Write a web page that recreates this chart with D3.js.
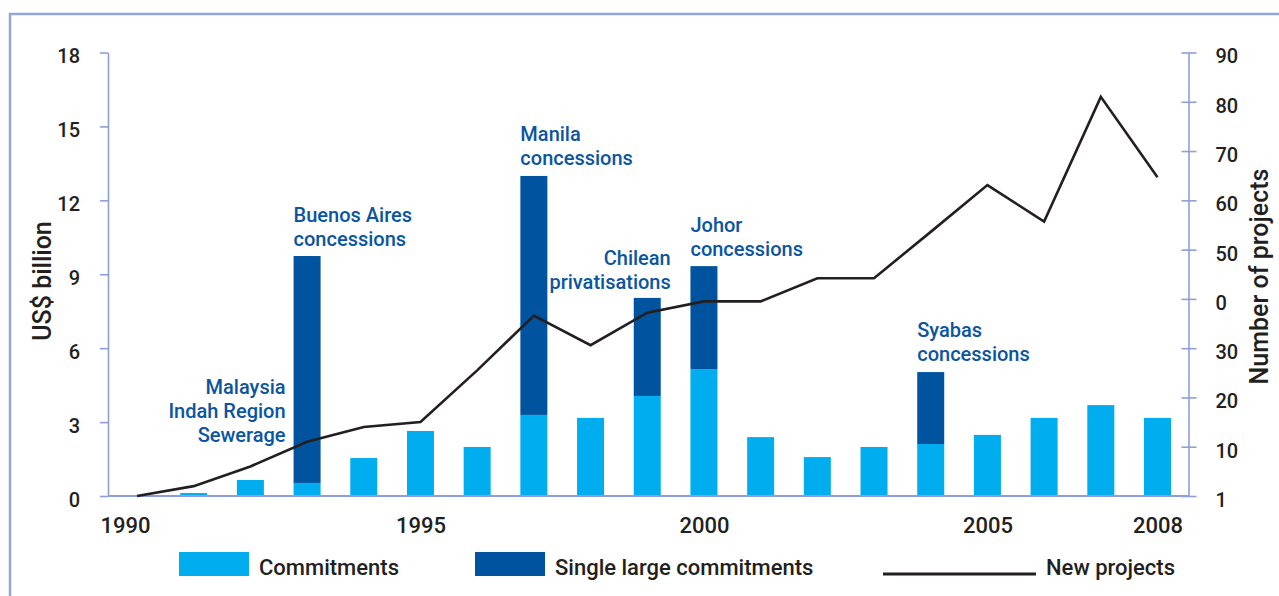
<!DOCTYPE html>
<html lang="en">
<head>
<meta charset="utf-8">
<title>Commitments and new projects, 1990-2008</title>
<script src="https://cdn.jsdelivr.net/npm/d3@7"></script>
<style>
	body { margin: 0; background: #fff; }
	svg { display: block; font-family: Roboto, "Open Sans", sans-serif; font-weight: 500; }
	text { fill: #231f20; }
	.axis path, .axis line { stroke: #8d9fd6; stroke-width: 1.6; }
	.note text { fill: #0b55a0; }
</style>
</head>
<body>
<script>

// values
var years = [1990, 1991, 1992, 1993, 1994, 1995, 1996, 1997, 1998, 1999,
             2000, 2001, 2002, 2003, 2004, 2005, 2006, 2007, 2008];
var commitments = [0, 0.12, 0.65, 0.53, 1.54, 2.64, 1.99, 3.29, 3.17, 4.06,
                   5.15, 2.39, 1.58, 1.99, 2.11, 2.48, 3.17, 3.69, 3.17];
var singleLarge = [0, 0, 0, 9.21, 0, 0, 0, 9.70, 0, 3.98,
                   4.18, 0, 0, 0, 2.92, 0, 0, 0, 0];
var newProjects = [0, 2, 6, 11, 14, 15, 25.5, 36.6, 30.6, 37.2,
                   39.5, 39.5, 44.2, 44.2, 53.6, 63.1, 55.7, 81, 64.7];

var leftTicks = [0, 3, 6, 9, 12, 15, 18];
var rightTicks = [0, 10, 20, 30, 40, 50, 60, 70, 80, 90];
var rightTickLabels = ["1", "10", "20", "30", "0", "50", "60", "70", "80", "90"];
var yearTicks = [1990, 1995, 2000, 2005, 2008];

var noteYears = [1993, 1993, 1997, 1999, 2000, 2004];
var noteLines = [
	["Malaysia", "Indah Region", "Sewerage"],
	["Buenos Aires", "concessions"],
	["Manila", "concessions"],
	["Chilean", "privatisations"],
	["Johor", "concessions"],
	["Syabas", "concessions"]
];

var W = 1279, H = 596;
var plotLeft = 108, plotRight = 1188.5, plotBottom = 496, plotTop = 52.5;
var barW = 27;

var svg = d3.select("body").append("svg")
	.attr("width", W)
	.attr("height", H);

// frame
svg.append("rect")
	.attr("x", 10).attr("y", 14)
	.attr("width", W).attr("height", H)
	.attr("fill", "none")
	.attr("stroke", "#94a6d8")
	.attr("stroke-width", 2.5);

var x = d3.scaleLinear().domain([1990, 2008]).range([137, 1157.5]);
var yL = d3.scaleLinear().domain([0, 18]).range([plotBottom, plotTop]);
var yR = d3.scaleLinear().domain([0, 90]).range([plotBottom, plotTop]);

var data = years.map(function(y, i) {
	return { year: y, c: commitments[i], s: singleLarge[i], p: newProjects[i] };
});

// bars
svg.append("g").selectAll("rect")
	.data(data)
	.enter().append("rect")
	.attr("x", function(d) { return x(d.year) - barW / 2; })
	.attr("y", function(d) { return yL(d.c); })
	.attr("width", barW)
	.attr("height", function(d) { return yL(0) - yL(d.c); })
	.attr("fill", "#00aeef");

svg.append("g").selectAll("rect")
	.data(data.filter(function(d) { return d.s > 0; }))
	.enter().append("rect")
	.attr("x", function(d) { return x(d.year) - barW / 2; })
	.attr("y", function(d) { return yL(d.c + d.s); })
	.attr("width", barW)
	.attr("height", function(d) { return yL(d.c) - yL(d.c + d.s); })
	.attr("fill", "#00549f");

// axes
var left = svg.append("g")
	.attr("class", "axis")
	.attr("transform", "translate(" + plotLeft + ",0)")
	.call(d3.axisLeft(yL).tickValues(leftTicks).tickSize(8).tickSizeOuter(0).tickPadding(20));

var right = svg.append("g")
	.attr("class", "axis")
	.attr("transform", "translate(" + plotRight + ",0)")
	.call(d3.axisRight(yR).tickValues(rightTicks).tickSize(8).tickSizeOuter(0).tickPadding(19)
		.tickFormat(function(d, i) { return rightTickLabels[i]; }));
right.selectAll(".tick line").attr("x1", -7);

var bottom = svg.append("g")
	.attr("class", "axis")
	.attr("transform", "translate(0," + plotBottom + ")")
	.call(d3.axisBottom(x).tickValues(yearTicks).tickSize(0).tickPadding(21).tickFormat(d3.format("d")));
bottom.select(".domain").remove();
bottom.selectAll("text").attr("font-size", 22)
	.filter(function(d) { return d === 1990; }).attr("dx", -12);

svg.append("line")
	.attr("class", "base")
	.attr("x1", plotLeft).attr("x2", plotRight)
	.attr("y1", plotBottom).attr("y2", plotBottom)
	.attr("stroke", "#8d9fd6").attr("stroke-width", 1.8);

[left, right].forEach(function(g) {
	g.selectAll("text").attr("font-size", 20).attr("dy", "0.52em");
});
svg.selectAll(".axis").attr("font-family", null).attr("font-size", null);
svg.selectAll(".axis text").attr("fill", "#231f20");

// new projects line
svg.append("path")
	.datum(data)
	.attr("fill", "none")
	.attr("stroke", "#231f20")
	.attr("stroke-width", 2.6)
	.attr("stroke-linejoin", "miter")
	.attr("d", d3.line()
		.x(function(d) { return x(d.year); })
		.y(function(d) { return yR(d.p); }));

// axis titles
svg.append("text")
	.attr("transform", "translate(51," + 281 + ") rotate(-90)")
	.attr("text-anchor", "middle")
	.attr("font-size", 25)
	.text("US$ billion");

svg.append("text")
	.attr("transform", "translate(1268," + 276.5 + ") rotate(-90)")
	.attr("text-anchor", "middle")
	.attr("font-size", 25)
	.text("Number of projects");

// annotations: anchored to the bars they describe
var noteLayout = [
	{ anchor: "end", dx: -barW / 2 - 8, base: 394 },
	{ anchor: "start", dx: -barW / 2, above: 10 },
	{ anchor: "start", dx: -barW / 2, above: 11 },
	{ anchor: "end", dx: barW / 2 + 10, above: 9 },
	{ anchor: "start", dx: -barW / 2, above: 10 },
	{ anchor: "start", dx: -barW / 2, above: 11 }
];
var lineH = 24;

noteLines.forEach(function(lines, i) {
	var L = noteLayout[i];
	var yr = noteYears[i];
	var k = years.indexOf(yr);
	var top = yL(commitments[k] + singleLarge[k]);
	var last = L.base !== undefined ? L.base + (lines.length - 1) * lineH : top - L.above;
	var g = svg.append("g").attr("class", "note");
	g.selectAll("text")
		.data(lines)
		.enter().append("text")
		.attr("x", x(yr) + L.dx)
		.attr("y", function(d, j) { return last - (lines.length - 1 - j) * lineH; })
		.attr("text-anchor", L.anchor)
		.attr("font-size", 20)
		.text(function(d) { return d; });
});

// legend
var legend = svg.append("g");
legend.append("rect").attr("x", 179).attr("y", 552).attr("width", 70).attr("height", 24).attr("fill", "#00aeef");
legend.append("text").attr("x", 259).attr("y", 575).attr("font-size", 22).text("Commitments");
legend.append("rect").attr("x", 475).attr("y", 552).attr("width", 70).attr("height", 24).attr("fill", "#00549f");
legend.append("text").attr("x", 555).attr("y", 575).attr("font-size", 22).text("Single large commitments");
legend.append("line").attr("x1", 883).attr("x2", 1036).attr("y1", 574).attr("y2", 574)
	.attr("stroke", "#231f20").attr("stroke-width", 3);
legend.append("text").attr("x", 1046).attr("y", 575).attr("font-size", 22).text("New projects");

</script>
</body>
</html>
